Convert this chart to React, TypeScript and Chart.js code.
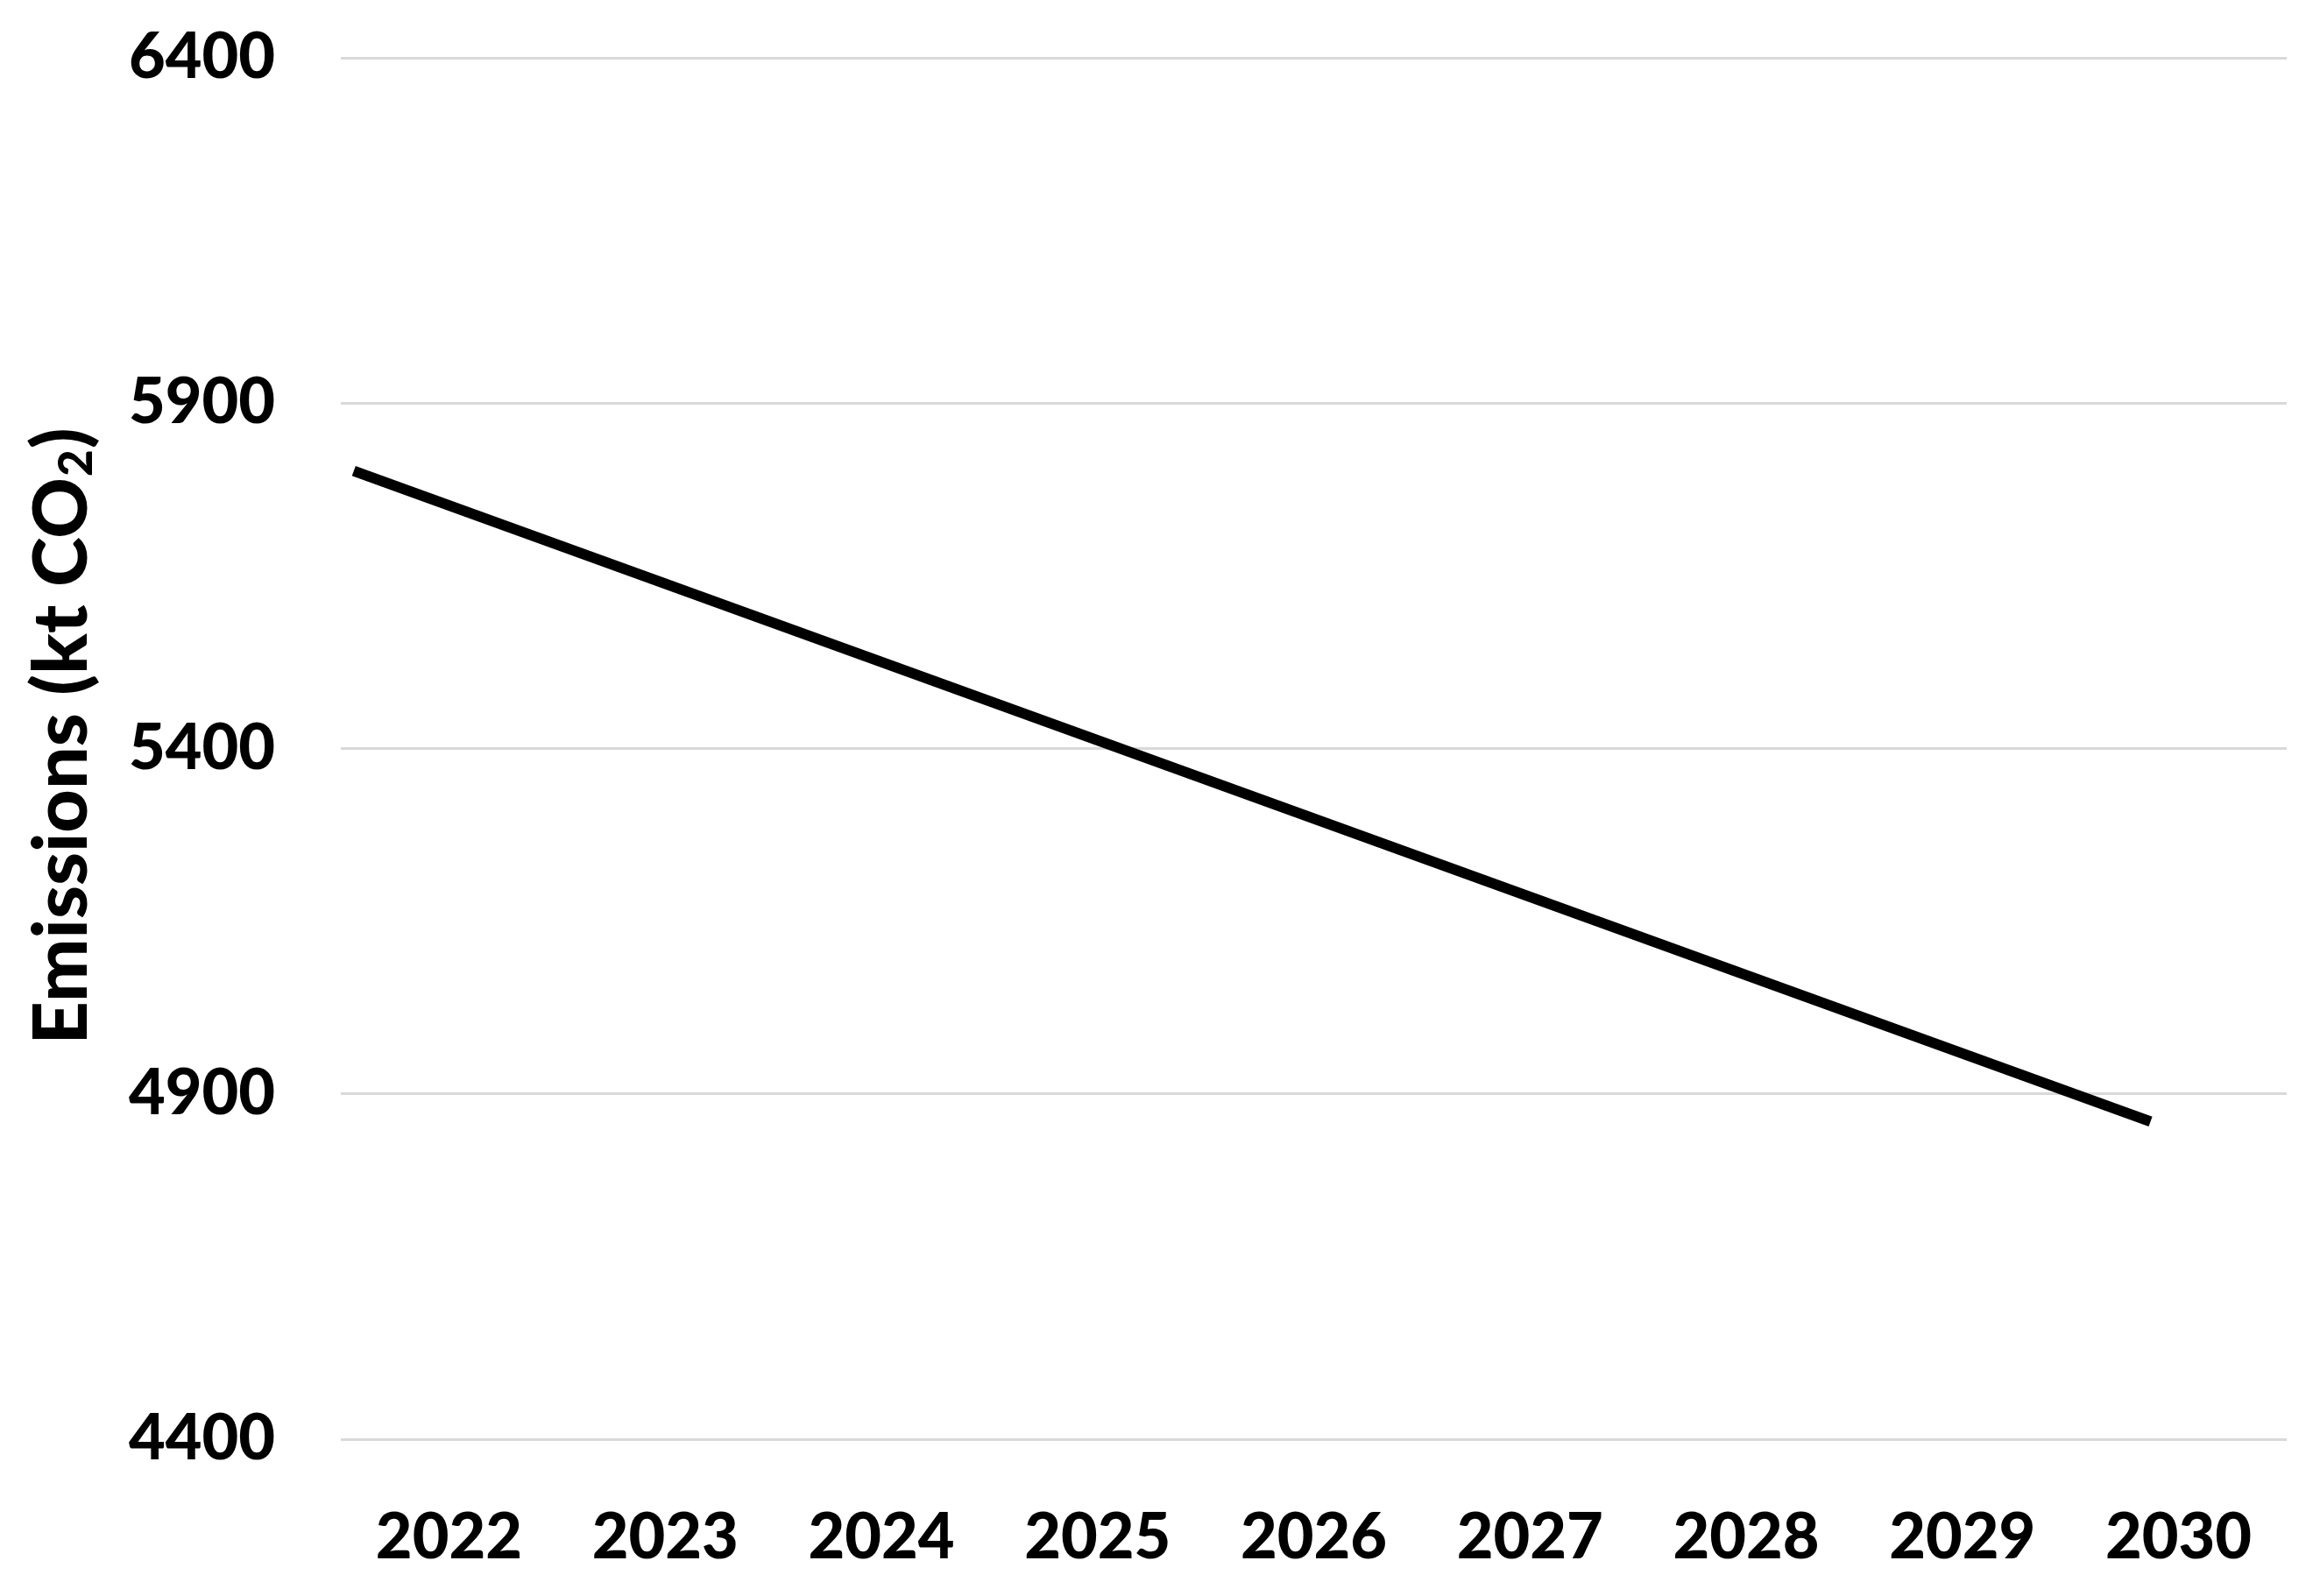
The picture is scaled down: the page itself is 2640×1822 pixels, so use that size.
import React, { useEffect, useRef } from "react";
import { Chart, registerables } from "chart.js";

Chart.register(...registerables);

// ---- data ----
const yearTicks = [2022, 2023, 2024, 2025, 2026, 2027, 2028, 2029, 2030];
const lineYears = [2021.56, 2029.87];
const emissions = [5802, 4860];
const yTickValues = [4400, 4900, 5400, 5900, 6400];
const yTitleMain = "Emissions (kt CO";
const yTitleSub = "2";
const yTitleEnd = ")";

const FONT = "Lato, 'Open Sans', sans-serif";
const WEIGHT = "900";
const TICK_SIZE = 72;
const TITLE_SIZE = 86;

const titlePlugin = {
  id: "yTitleSub",
  afterDraw(chart: any) {
    const { ctx, chartArea } = chart;
    ctx.save();
    const cy = (chartArea.top + chartArea.bottom) / 2 - 14;
    const cx = 71;
    ctx.translate(cx, cy);
    ctx.rotate(-Math.PI / 2);
    ctx.fillStyle = "#000";
    ctx.textBaseline = "middle";
    ctx.textAlign = "left";
    const mainFont = `${WEIGHT} ${TITLE_SIZE}px ${FONT}`;
    const subFont = `${WEIGHT} ${Math.round(TITLE_SIZE * 0.62)}px ${FONT}`;
    ctx.font = mainFont;
    const w1 = ctx.measureText(yTitleMain).width;
    const w3 = ctx.measureText(yTitleEnd).width;
    ctx.font = subFont;
    const w2 = ctx.measureText(yTitleSub).width;
    const total = w1 + w2 + w3 + 2;
    let x = -total / 2;
    ctx.font = mainFont;
    ctx.fillText(yTitleMain, x, 0);
    x += w1 + 1;
    ctx.font = subFont;
    ctx.fillText(yTitleSub, x, TITLE_SIZE * 0.2);
    x += w2 + 1;
    ctx.font = mainFont;
    ctx.fillText(yTitleEnd, x, 0);
    ctx.restore();
  },
};

export default function App() {
  const ref = useRef<HTMLCanvasElement | null>(null);
  useEffect(() => {
    let chart: Chart | null = null;
    let cancelled = false;
    const make = () => {
      if (cancelled || !ref.current) return;
      chart = new Chart(ref.current, {
        type: "line",
        data: {
          datasets: [
            {
              data: lineYears.map((x, i) => ({ x, y: emissions[i] })),
              borderColor: "#000",
              borderWidth: 12,
              pointRadius: 0,
              tension: 0,
              borderCapStyle: "butt",
            },
          ],
        },
        options: {
          animation: false,
          responsive: false,
          maintainAspectRatio: false,
          layout: { padding: { left: 0, right: 30, top: 66, bottom: 0 } },
          plugins: { legend: { display: false }, tooltip: { enabled: false } },
          scales: {
            x: {
              type: "linear",
              min: 2021.5,
              max: 2030.5,
              afterBuildTicks: (scale: any) => {
                scale.ticks = yearTicks.map((v) => ({ value: v }));
              },
              afterFit: (scale: any) => {
                scale.height = 179;
                scale.paddingLeft = 0;
                scale.paddingRight = 0;
              },
              grid: { display: false, drawTicks: false },
              border: { display: false },
              ticks: {
                padding: 70,
                maxRotation: 0,
                autoSkip: false,
                color: "#000",
                font: { family: FONT, size: TICK_SIZE, weight: WEIGHT },
                callback: (v: any) => String(v),
              },
            },
            y: {
              type: "linear",
              min: 4400,
              max: 6400,
              afterBuildTicks: (scale: any) => {
                scale.ticks = yTickValues.map((v) => ({ value: v }));
              },
              afterFit: (scale: any) => {
                scale.width = 389;
                scale.paddingTop = 0;
                scale.paddingBottom = 0;
              },
              grid: { color: "#d9d9d9", lineWidth: 3, drawTicks: false },
              border: { display: false },
              ticks: {
                padding: 75,
                color: "#000",
                font: { family: FONT, size: TICK_SIZE, weight: WEIGHT },
                callback: (v: any) => String(v),
              },
            },
          },
        },
        plugins: [titlePlugin],
      } as any);
    };
    const fontsApi: any = (document as any).fonts;
    if (fontsApi && fontsApi.load) {
      Promise.all([
        fontsApi.load(`${WEIGHT} ${TICK_SIZE}px Lato`),
        fontsApi.load(`${WEIGHT} ${TITLE_SIZE}px Lato`),
      ])
        .catch(() => {})
        .then(make);
    } else {
      make();
    }
    return () => {
      cancelled = true;
      if (chart) chart.destroy();
    };
  }, []);
  return (
    <div
      style={{
        position: "fixed",
        left: 0,
        top: 0,
        width: 2640,
        height: 1822,
        background: "#fff",
      }}
    >
      <canvas ref={ref} width={2640} height={1822} style={{ width: 2640, height: 1822 }} />
    </div>
  );
}
